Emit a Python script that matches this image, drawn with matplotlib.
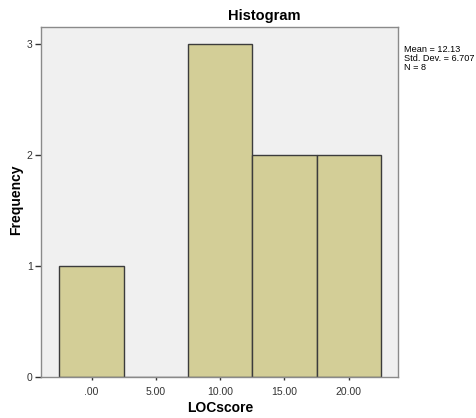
import matplotlib
matplotlib.use("Agg")
import matplotlib.pyplot as plt

# histogram data (bin centres and counts)
bin_centers = [0, 5, 10, 15, 20]
counts = [1, 0, 3, 2, 2]
bin_width = 5
tick_labels = [".00", "5.00", "10.00", "15.00", "20.00"]
y_ticks = [0, 1, 2, 3]
stats_text = "Mean = 12.13\nStd. Dev. = 6.707\nN = 8"

plt.rcParams['font.family'] = ['Liberation Sans', 'DejaVu Sans']

fig = plt.figure(figsize=(4.76, 4.18), dpi=100)
ax = fig.add_axes([41/476, 1 - 377/418, (398 - 41)/476, (377 - 27)/418])
ax.set_facecolor('#f0f0f0')

ax.bar(bin_centers, counts, width=bin_width, color='#d3ce97',
       edgecolor='#3c3c3c', linewidth=1.0, zorder=2)

ax.set_xlim(-3.93, 23.83)
ax.set_ylim(0, 3.156)
ax.set_xticks(bin_centers)
ax.set_xticklabels(tick_labels)
ax.set_yticks(y_ticks)
ax.tick_params(axis='both', labelsize=7.5, colors='#333333', length=4,
               width=1, direction='out', pad=2)
ax.tick_params(axis='x', length=2, pad=5)
for s in ax.spines.values():
    s.set_color('#8a8a8a')
    s.set_linewidth(1.0)

# axis titles placed directly on the figure
fig.text(220/476, 1 - 408/418, 'LOCscore', fontsize=10, fontweight='bold',
         ha='center', va='center')
fig.text(16/476, 1 - 200/418, 'Frequency', fontsize=10, fontweight='bold',
         ha='center', va='center', rotation=90)

fig.text(264/476, 1 - 16/418, 'Histogram', fontsize=10.5, fontweight='bold',
         ha='center', va='center')
fig.text(404/476, 1 - 45/418, stats_text, fontsize=6.6, ha='left', va='top',
         linespacing=1.0)

fig.savefig('out.png', dpi=100, facecolor='white')
